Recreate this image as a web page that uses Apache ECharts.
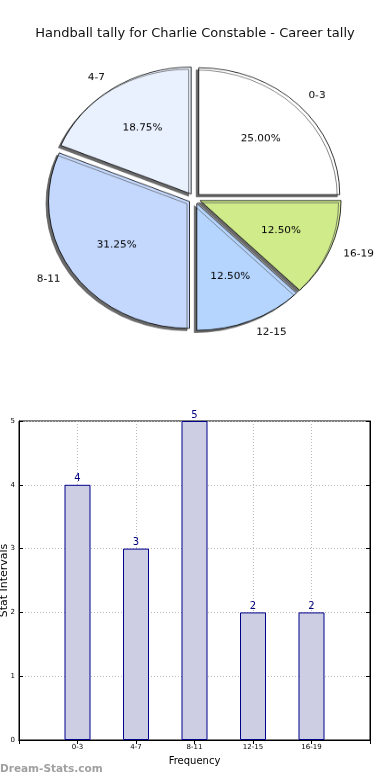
<!DOCTYPE html>
<html><head><meta charset="utf-8">
<script src="https://cdn.jsdelivr.net/npm/echarts@6/dist/echarts.min.js"></script>
<style>
html,body{margin:0;padding:0;background:#fff;}
#wrap{position:relative;width:390px;height:780px;overflow:hidden;}
#main{position:absolute;left:0;top:0;width:390px;height:780px;}
#pie{position:absolute;left:0;top:0;width:390px;height:440px;transform:scaleY(0.9);transform-origin:0 0;}
</style></head>
<body>
<div id="wrap"><div id="main"></div><div id="pie"></div></div>
<script>
const titleText = 'Handball tally for Charlie Constable - Career tally';
const categories = ['0-3', '4-7', '8-11', '12-15', '16-19'];
const values = [4, 3, 5, 2, 2];
const sliceColors = ['#ffffff', '#eaf1fe', '#c4d8fe', '#b5d5fe', '#cfeb8a'];
const yTicks = [0, 1, 2, 3, 4, 5];
const xAxisName = 'Frequency';
const yAxisName = 'Stat Intervals';
const watermark = 'Dream-Stats.com';

const FONT = 'DejaVu Sans';
const total = values.reduce((a, b) => a + b, 0);
const R = 141, CX = 194.5, CY = 220.5, OFF = 6;

const pieData = categories.map((c, i) => ({
  name: c, value: values[i], selected: true,
  itemStyle: { color: sliceColors[i] }
}));
const pctData = categories.map((c, i) => ({ name: c, value: values[i], selected: true }));

const pie = echarts.init(document.getElementById('pie'), null, { renderer: 'canvas' });
pie.setOption({
  animation: false,
  series: [
    {
      type: 'pie', center: [CX, CY], radius: [0, R],
      startAngle: 0, clockwise: false,
      selectedMode: 'multiple', selectedOffset: OFF,
      avoidLabelOverlap: false, silent: true,
      itemStyle: { borderColor: '#000', borderWidth: 0.8,
        shadowColor: 'rgba(90,90,90,0.9)', shadowBlur: 0.5, shadowOffsetX: -2.5, shadowOffsetY: 2.5 },
      select: { itemStyle: { borderColor: '#000', borderWidth: 0.8 } },
      emphasis: { disabled: true },
      label: { show: true, position: 'outside', fontFamily: FONT, fontSize: 10.5, color: '#000',
        distanceToLabelLine: 0, formatter: '{b}' },
      labelLine: { show: false, length: R * 0.1, length2: 0 },
      data: pieData
    },
    {
      type: 'pie', center: [CX, CY], radius: [0, R * 1.2],
      startAngle: 0, clockwise: false,
      selectedMode: 'multiple', selectedOffset: OFF,
      avoidLabelOverlap: false, silent: true,
      itemStyle: { color: 'rgba(0,0,0,0)', borderWidth: 0 },
      select: { itemStyle: { color: 'rgba(0,0,0,0)', borderWidth: 0 } },
      emphasis: { disabled: true },
      label: { show: true, position: 'inside', fontFamily: FONT, fontSize: 10.5, color: '#000',
        formatter: p => (p.value / total * 100).toFixed(2) + '%' },
      labelLine: { show: false },
      data: pctData
    }
  ]
});

const main = echarts.init(document.getElementById('main'), null, { renderer: 'canvas' });
const xCats = [''].concat(categories, ['']);
const barData = ['-'].concat(values, ['-']);
const axisBlack = { lineStyle: { color: '#000', width: 1 } };
main.setOption({
  animation: false,
  title: { text: titleText, left: 'center', top: 22,
    textStyle: { fontFamily: FONT, fontSize: 13, fontWeight: 'normal', color: '#111' } },
  graphic: [{ type: 'text', left: 0, top: 764,
    style: { text: watermark, fontFamily: FONT, fontSize: 10.5, fontWeight: 'bold', fill: '#a0a0a0' } }],
  grid: { left: 19, right: 20, top: 421, bottom: 40, containLabel: false, outerBoundsMode: 'none',
    show: true, borderColor: '#000', borderWidth: 1 },
  xAxis: [
    { type: 'category', data: xCats, boundaryGap: false, position: 'bottom',
      name: xAxisName, nameLocation: 'middle', nameGap: 16,
      nameTextStyle: { fontFamily: FONT, fontSize: 10, color: '#000' },
      axisLine: axisBlack, axisTick: { inside: true, length: 4, lineStyle: { color: '#000' } },
      axisLabel: { fontFamily: FONT, fontSize: 7, color: '#000', margin: 4 },
      splitLine: { show: true, lineStyle: { color: '#bbb', type: [1, 2], width: 1 } } },
    { type: 'category', data: xCats, boundaryGap: false, position: 'top',
      axisLine: axisBlack, axisTick: { inside: true, length: 4, lineStyle: { color: '#000' } },
      axisLabel: { show: false }, splitLine: { show: false } }
  ],
  yAxis: [
    { type: 'value', min: 0, max: 5, interval: 1, position: 'left',
      name: yAxisName, nameLocation: 'middle', nameGap: 9, nameMoveOverlap: false,
      nameTextStyle: { fontFamily: FONT, fontSize: 11, color: '#000' },
      axisLine: { show: true, lineStyle: { color: '#000' } },
      axisTick: { show: true, inside: true, length: 4, lineStyle: { color: '#000' } },
      axisLabel: { fontFamily: FONT, fontSize: 7, color: '#000', margin: 4,
        formatter: v => yTicks.includes(v) ? String(v) : '' },
      splitLine: { show: true, lineStyle: { color: '#bbb', type: [1, 2], width: 1 } } },
    { type: 'value', min: 0, max: 5, interval: 1, position: 'right',
      axisLine: { show: true, lineStyle: { color: '#000' } },
      axisTick: { show: true, inside: true, length: 4, lineStyle: { color: '#000' } },
      axisLabel: { show: false }, splitLine: { show: false } }
  ],
  series: [{
    type: 'bar', xAxisIndex: 0, yAxisIndex: 0, data: barData, barWidth: 26,
    itemStyle: { color: '#cdcde4', borderColor: '#00008b', borderWidth: 1 },
    label: { show: true, position: 'top', distance: 1, fontFamily: FONT, fontSize: 10, color: '#000080' },
    emphasis: { disabled: true }
  }]
});
</script>
</body></html>
